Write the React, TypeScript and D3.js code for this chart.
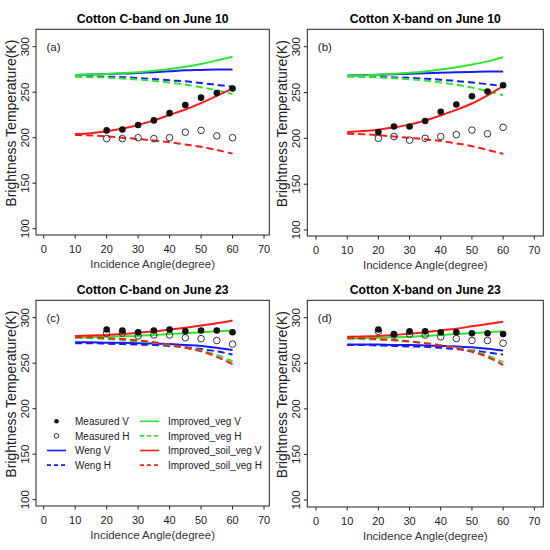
import * as d3 from "d3";
import React from "react";

// incidence angles (degree)
const modelAngles = [10, 15, 20, 25, 30, 35, 40, 45, 50, 55, 60];
const measAngles = [20, 25, 30, 35, 40, 45, 50, 55, 60];
const xTicks = [0, 10, 20, 30, 40, 50, 60, 70];
const yTicks = [100, 150, 200, 250, 300];

// (a) C-band June 10
const aMeasV = [208, 209, 214, 219, 227, 236, 244, 249, 254];
const aMeasH = [199, 199, 200, 199, 200, 206, 208, 202, 200];
const aWengV = [269, 269.5, 270, 270.5, 271, 272, 273, 274, 274.5, 275, 275];
const aWengH = [268, 267.5, 267, 266.5, 265.5, 264.5, 263, 262, 260, 258, 256];
const aVegV = [269, 269.5, 270, 271, 272, 273.5, 275.5, 278, 281, 285, 289];
const aVegH = [267, 266.5, 266, 265, 264, 262.5, 260.5, 258.5, 255.5, 252, 248];
const aSoilV = [204, 205, 207, 210, 214, 219, 225, 231, 238, 246, 254];
const aSoilH = [203, 202.5, 201.5, 200, 198.5, 197, 195, 192.5, 190, 186.5, 182.5];

// (b) X-band June 10
const bMeasV = [207, 213, 213, 219, 229, 237, 246, 251, 258];
const bMeasH = [200, 202, 198, 200, 202, 204, 209, 205, 212];
const bWengV = [268.5, 269, 269.5, 270, 270.5, 271, 271.5, 272, 272.5, 273, 273];
const bWengH = [268, 267.5, 267, 266.5, 266, 265, 264, 262.5, 261, 259, 257];
const bVegV = [268, 268.5, 269.5, 270.5, 271.5, 273, 275, 277.5, 280.5, 284, 288.5];
const bVegH = [267.5, 267, 266.5, 265.5, 264.5, 263, 261, 258.5, 255.5, 251.5, 247];
const bSoilV = [207, 208, 209.5, 212, 215, 219.5, 225, 231, 238, 247, 257];
const bSoilH = [205, 204.5, 203.5, 202, 200.5, 199, 197, 194.5, 191.5, 187.5, 183];

// (c) C-band June 23
const cMeasV = [287, 286, 284, 286, 287, 285, 286, 286, 284];
const cMeasH = [283, 283, 280, 281, 281, 278, 277, 275, 271];
const cWengV = [273, 273, 272.5, 272.5, 272, 271.5, 271, 270, 269, 267, 264.5];
const cWengH = [272, 272, 271.5, 271, 270.5, 270, 269, 267.5, 265.5, 263, 259.5];
const cVegV = [278, 278.5, 279, 279.5, 280, 281, 282, 283, 284, 285, 286];
const cVegH = [278, 277.5, 276.5, 275.5, 274, 272.5, 270, 267, 264, 259, 252];
const cSoilV = [280, 280.5, 281, 282, 283.5, 285, 287, 289, 291.5, 294, 297];
const cSoilH = [279, 278.5, 277.5, 276.5, 275, 273, 270.5, 267, 263, 257, 249];

// (d) X-band June 23
const dMeasV = [287, 282, 285, 285, 284, 284, 283, 283, 282];
const dMeasH = [285, 281, 282, 281, 279, 277, 275, 275, 272];
const dWengV = [270.5, 270.5, 270.5, 270, 270, 269.5, 269, 268.5, 267.5, 266, 264];
const dWengH = [270, 270, 269.5, 269, 268.5, 268, 267, 265.5, 264, 262, 259.5];
const dVegV = [277, 277.5, 278, 278.5, 279, 280, 281, 282, 283, 284, 285];
const dVegH = [277, 276.5, 276, 275, 273.5, 272, 270, 267, 263.5, 258.5, 251];
const dSoilV = [279, 279.5, 280, 281, 282.5, 284, 286, 288, 290.5, 293, 295.5];
const dSoilH = [278, 277.5, 276.5, 275.5, 274, 272, 269.5, 266.5, 262.5, 257, 248];

const GREEN = "#2ee62e";
const BLUE = "#1a1aff";
const RED = "#ff1a1a";
const FONT = "'Liberation Sans', Arial, sans-serif";

const panels = [
    { tag: "(a)", title: "Cotton C-band on June 10", box: [36, 269.3, 29.3, 235], xr: [43.7, 264], yr: [228.7, 46.7],
      mv: aMeasV, mh: aMeasH, wv: aWengV, wh: aWengH, vv: aVegV, vh: aVegH, sv: aSoilV, sh: aSoilH, legend: false },
    { tag: "(b)", title: "Cotton X-band on June 10", box: [307.3, 543.3, 29.3, 236], xr: [316, 534.3], yr: [230, 46.7],
      mv: bMeasV, mh: bMeasH, wv: bWengV, wh: bWengH, vv: bVegV, vh: bVegH, sv: bSoilV, sh: bSoilH, legend: false },
    { tag: "(c)", title: "Cotton C-band on June 23", box: [36, 269.3, 300.3, 506], xr: [43.7, 264], yr: [499.7, 317.7],
      mv: cMeasV, mh: cMeasH, wv: cWengV, wh: cWengH, vv: cVegV, vh: cVegH, sv: cSoilV, sh: cSoilH, legend: true },
    { tag: "(d)", title: "Cotton X-band on June 23", box: [307.3, 543.3, 300.3, 507], xr: [316, 534.3], yr: [500, 317.7],
      mv: dMeasV, mh: dMeasH, wv: dWengV, wh: dWengH, vv: dVegV, vh: dVegH, sv: dSoilV, sh: dSoilH, legend: false },
];

const legendCol1 = [
    { label: "Measured V", kind: "dot" },
    { label: "Measured H", kind: "circle" },
    { label: "Weng V", kind: "line", color: BLUE, dash: false },
    { label: "Weng H", kind: "line", color: BLUE, dash: true },
];
const legendCol2 = [
    { label: "Improved_veg V", kind: "line", color: GREEN, dash: false },
    { label: "Improved_veg H", kind: "line", color: GREEN, dash: true },
    { label: "Improved_soil_veg V", kind: "line", color: RED, dash: false },
    { label: "Improved_soil_veg H", kind: "line", color: RED, dash: true },
];

function Panel({ p }: { p: typeof panels[number] }) {
    const [l, r, t, b] = p.box;
    const x = d3.scaleLinear().domain([0, 70]).range(p.xr);
    const y = d3.scaleLinear().domain([100, 300]).range(p.yr);
    const line = d3.line<number>().x((_, i) => x(modelAngles[i])).y(v => y(v)).curve(d3.curveMonotoneX);
    const models = [
        { v: p.wv, c: BLUE, dash: false }, { v: p.wh, c: BLUE, dash: true },
        { v: p.vv, c: GREEN, dash: false }, { v: p.vh, c: GREEN, dash: true },
        { v: p.sv, c: RED, dash: false }, { v: p.sh, c: RED, dash: true },
    ];
    const cx = (l + r) / 2;
    const cy = (t + b) / 2 - 9;
    return (
        <g fontFamily={FONT}>
            <text x={cx} y={t - 6.5} textAnchor="middle" fontWeight="bold" fontSize={12.2}>{p.title}</text>
            <rect x={l} y={t} width={r - l} height={b - t} fill="none" stroke="#222" strokeWidth={1} />
            <text x={l + 10.5} y={t + 21.5} fontSize={11.5} fill="#222">{p.tag}</text>

            {xTicks.map(v => (
                <g key={v}>
                    <line x1={x(v)} x2={x(v)} y1={b} y2={b + 3.5} stroke="#222" />
                    <text x={x(v)} y={b + 17.5} textAnchor="middle" fontSize={11} fill="#222">{v}</text>
                </g>
            ))}
            <text x={cx} y={b + 32.5} textAnchor="middle" fontSize={11.5} fill="#333">Incidence Angle(degree)</text>

            {yTicks.map(v => (
                <g key={v}>
                    <line x1={l - 3.5} x2={l} y1={y(v)} y2={y(v)} stroke="#222" />
                    <text transform={`translate(${l - 7},${y(v)}) rotate(-90)`} textAnchor="middle" fontSize={11.5} fill="#222">{v}</text>
                </g>
            ))}
            <text transform={`translate(${l - 20},${cy}) rotate(-90)`} textAnchor="middle" fontSize={14} fill="#222">Brightness Temperature(K)</text>

            {models.map((m, i) => (
                <path key={i} d={line(m.v) ?? undefined} fill="none" stroke={m.c} strokeWidth={2}
                    strokeDasharray={m.dash ? "7 4" : undefined} />
            ))}
            {p.mh.map((v, i) => (
                <circle key={"h" + i} cx={x(measAngles[i])} cy={y(v)} r={3.3} fill="none" stroke="#333" strokeWidth={1} />
            ))}
            {p.mv.map((v, i) => (
                <circle key={"v" + i} cx={x(measAngles[i])} cy={y(v)} r={3.3} fill="#111" />
            ))}

            {p.legend && (
                <g fontSize={10} fill="#222">
                    {[legendCol1, legendCol2].map((col, ci) => col.map((e, ri) => {
                        const ly = 421.3 + ri * 14.6;
                        const x0 = ci === 0 ? 47 : 140;
                        const tx = ci === 0 ? 75 : 168;
                        return (
                            <g key={ci + "-" + ri}>
                                {e.kind === "dot" && <circle cx={x0 + 9.5} cy={ly} r={2.3} fill="#111" />}
                                {e.kind === "circle" && <circle cx={x0 + 9.5} cy={ly} r={2.3} fill="none" stroke="#333" />}
                                {e.kind === "line" && <line x1={x0} x2={x0 + 19} y1={ly} y2={ly} stroke={e.color} strokeWidth={1.6}
                                    strokeDasharray={e.dash ? "4 3" : undefined} />}
                                <text x={tx} y={ly + 3.6} fill="#222">{e.label}</text>
                            </g>
                        );
                    }))}
                </g>
            )}
        </g>
    );
}

export default function App() {
    return (
        <svg width={550} height={550} viewBox="0 0 550 550" style={{ position: "absolute", left: 0, top: 0, background: "#fff" }}>
            <rect width={550} height={550} fill="#fff" />
            {panels.map(p => <Panel key={p.tag} p={p} />)}
        </svg>
    );
}
